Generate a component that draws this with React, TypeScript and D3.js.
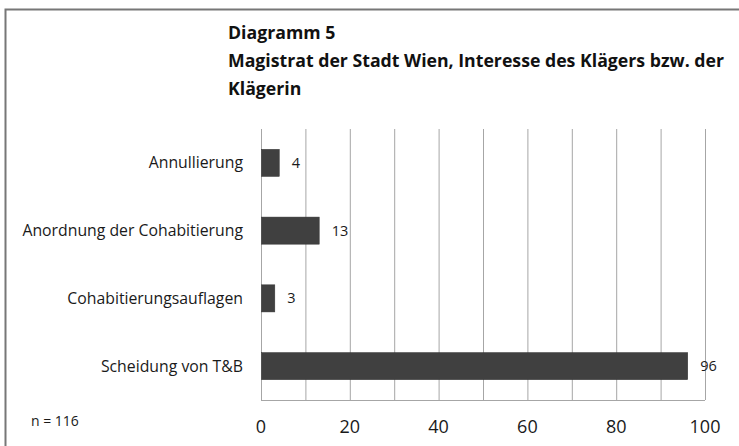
import { useEffect, useRef } from "react"
import * as d3 from "d3"

const categories = ["Annullierung", "Anordnung der Cohabitierung", "Cohabitierungsauflagen", "Scheidung von T&B"]
const values = [4, 13, 3, 96]
const xTicks = [0, 20, 40, 60, 80, 100]
const gridTicks = [0, 10, 20, 30, 40, 50, 60, 70, 80, 90, 100]
const titleLines = ["Diagramm 5", "Magistrat der Stadt Wien, Interesse des Klägers bzw. der", "Klägerin"]
const note = "n = 116"

const W = 739
const H = 446
const FONT = "'Open Sans', 'Noto Sans', sans-serif"

export default function App() {
  const svgRef = useRef<SVGSVGElement>(null)

  useEffect(() => {
    if (!svgRef.current) return
    const svg = d3.select(svgRef.current)
    svg.selectAll("*").remove()

    svg.append("rect").attr("width", W).attr("height", H).attr("fill", "white")

    // frame
    svg.append("rect")
      .attr("x", 5.5).attr("y", 9.5).attr("width", W + 10).attr("height", H + 10)
      .attr("fill", "none").attr("stroke", "#777").attr("stroke-width", 2)

    const x = d3.scaleLinear().domain([0, 100]).range([261, 705])
    const y = d3.scaleBand().domain(categories).range([129, 400]).paddingInner(0.6).paddingOuter(0.3)

    // grid
    svg.append("g")
      .selectAll("line")
      .data(gridTicks)
      .join("line")
      .attr("x1", (d) => x(d) + 0.5).attr("x2", (d) => x(d) + 0.5)
      .attr("y1", 129).attr("y2", 400)
      .attr("stroke", "#a6a6a6").attr("stroke-width", 1)

    svg.append("line")
      .attr("x1", x(0)).attr("x2", x(100))
      .attr("y1", 400.5).attr("y2", 400.5)
      .attr("stroke", "#a6a6a6")

    // bars
    svg.append("g")
      .selectAll("rect")
      .data(values)
      .join("rect")
      .attr("x", x(0) + 0.5)
      .attr("y", (_, i) => y(categories[i])!)
      .attr("width", (d) => x(d) - x(0))
      .attr("height", y.bandwidth())
      .attr("fill", "#404040")
      .attr("stroke", "#333").attr("stroke-width", 0.5)

    // value labels
    svg.append("g")
      .selectAll("text")
      .data(values)
      .join("text")
      .attr("x", (d) => x(d) + 13)
      .attr("y", (_, i) => y(categories[i])! + y.bandwidth() / 2)
      .attr("dy", "0.35em")
      .attr("font-family", FONT).attr("font-size", 14.5).attr("fill", "#1a1a1a")
      .text((d) => d)

    // category labels
    svg.append("g")
      .selectAll("text")
      .data(categories)
      .join("text")
      .attr("x", 243)
      .attr("y", (d) => y(d)! + y.bandwidth() / 2)
      .attr("dy", "0.35em")
      .attr("text-anchor", "end")
      .attr("font-family", FONT).attr("font-size", 15.8).attr("fill", "#1a1a1a")
      .text((d) => d)

    // x tick labels
    svg.append("g")
      .selectAll("text")
      .data(xTicks)
      .join("text")
      .attr("x", (d) => x(d))
      .attr("y", 427)
      .attr("dy", "0.35em")
      .attr("text-anchor", "middle")
      .attr("font-family", FONT).attr("font-size", 18).attr("fill", "#1a1a1a")
      .text((d) => d)

    svg.append("text")
      .attr("x", 31).attr("y", 421).attr("dy", "0.35em")
      .attr("font-family", FONT).attr("font-size", 14).attr("fill", "#1a1a1a")
      .text(note)

    // title
    svg.append("g")
      .selectAll("text")
      .data(titleLines)
      .join("text")
      .attr("x", 228)
      .attr("y", (_, i) => 33 + i * 28)
      .attr("dy", "0.35em")
      .attr("font-family", FONT).attr("font-size", 17.7).attr("font-weight", "bold").attr("fill", "#111")
      .text((d) => d)
  }, [])

  return (
    <div style={{ position: "fixed", left: 0, top: 0 }}>
      <svg ref={svgRef} width={W} height={H} style={{ display: "block" }} />
    </div>
  )
}
